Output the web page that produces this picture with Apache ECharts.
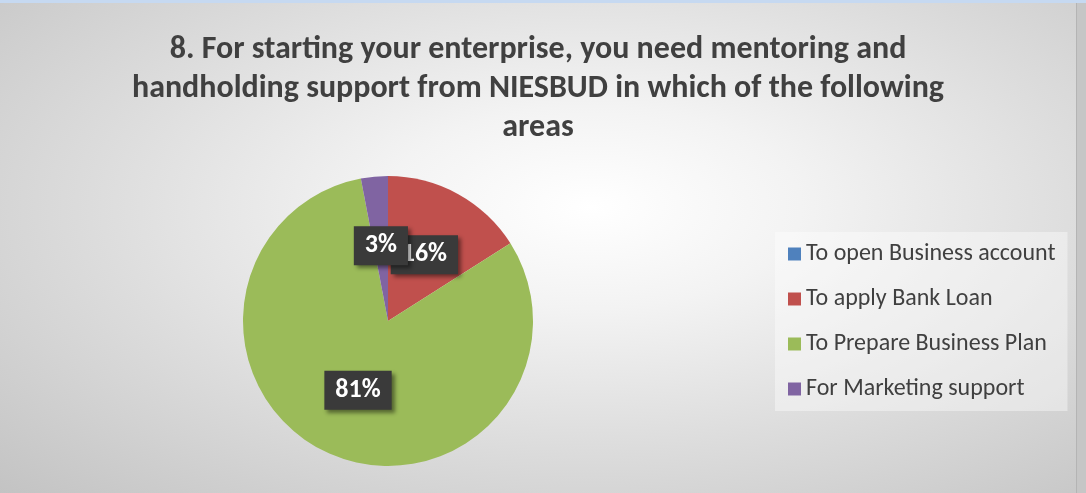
<!DOCTYPE html>
<html>
<head>
<meta charset="utf-8">
<script src="https://cdn.jsdelivr.net/npm/echarts@6/dist/echarts.min.js"></script>
<style>
  html, body { margin: 0; padding: 0; background: #c6c6c6; }
  .wrap { position: relative; width: 1086px; height: 493px; overflow: hidden; }
  .chart {
    position: absolute; left: 0; top: 0; width: 1076px; height: 493px;
    background: radial-gradient(ellipse at 55% 42%, #ffffff 0%, #f3f3f3 25%, #dcdcdc 60%, #c3c3c3 100%);
    border-right: 1px solid #b4b4b4;
  }
  .band { position: absolute; left: 0; top: 0; width: 1086px; height: 3px; background: #c6d9f1; }
</style>
</head>
<body>
<div class="wrap">
  <div class="chart" id="chart"></div>
  <div class="band"></div>
</div>
<script>
const titleText = '8. For starting your enterprise, you need mentoring and\nhandholding support from NIESBUD in which of the following\nareas'
const categories = ['To open Business account', 'To apply Bank Loan', 'To Prepare Business Plan', 'For Marketing support']
const shares = [0, 16, 81, 3] // percent
const colors = ['#4f81bd', '#c0504d', '#9bbb59', '#8064a2']

const fontFamily = 'Carlito, Calibri, Lato, "Open Sans", sans-serif'
const myChart = echarts.init(document.getElementById('chart'))

const pieData = categories.map((name, i) => ({
  name: name,
  value: shares[i],
  itemStyle: { color: colors[i] },
  label: { show: shares[i] > 0 }
}))

const options = {
  backgroundColor: 'transparent',
  title: {
    text: titleText,
    left: 'center',
    top: 30,
    padding: 0,
    textStyle: {
      fontFamily: fontFamily,
      fontSize: 32,
      fontWeight: 'bold',
      color: '#404040',
      lineHeight: 39
    }
  },
  legend: {
    orient: 'vertical',
    left: 775,
    top: 232,
    padding: [10, 12, 10, 13],
    backgroundColor: 'rgba(255,255,255,0.4)',
    itemWidth: 13,
    itemHeight: 13,
    itemGap: 21,
    icon: 'rect',
    data: categories,
    textStyle: {
      fontFamily: fontFamily,
      fontSize: 24,
      lineHeight: 24,
      color: '#404040'
    }
  },
  series: [
    {
      type: 'pie',
      center: [388, 321],
      radius: 145,
      startAngle: 90,
      clockwise: true,
      avoidLabelOverlap: false,
      minShowLabelAngle: 0,
      emphasis: { disabled: true },
      labelLayout: { hideOverlap: false },
      label: {
        position: 'inside',
        formatter: '{d}%',
        fontFamily: fontFamily,
        fontSize: 26,
        fontWeight: 'bold',
        color: '#ffffff',
        backgroundColor: '#3a3a3a',
        padding: [7, 11, 6, 11],
        shadowBlur: 4,
        shadowOffsetX: 3,
        shadowOffsetY: 3,
        shadowColor: 'rgba(0,0,0,0.45)'
      },
      labelLine: { show: false },
      data: pieData
    }
  ]
}

myChart.setOption(options)
</script>
</body>
</html>
